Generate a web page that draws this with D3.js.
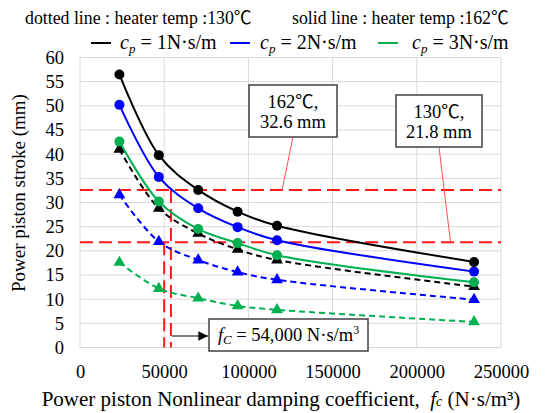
<!DOCTYPE html>
<html>
<head>
	<meta charset="utf-8">
	<title>D3</title>
	<script src="https://d3js.org/d3.v7.min.js"></script>
	<style>
		html, body {
			margin: 0;
			background: #fff;
		}
		text {
			font-family: "Liberation Serif", "Noto Sans CJK JP", serif;
			fill: #000;
		}
	</style>
</head>
<body>
	<svg id="svg"></svg>
	<script>
		// damping coefficient (N·s/m³)
		const fcValues = [23400, 46800, 70200, 93600, 117000, 234000];

		// solid: heater 162 ℃
		const solid1 = [56.5, 39.8, 32.6, 28.1, 25.2, 17.7];
		const solid2 = [50.2, 35.3, 28.8, 24.9, 22.2, 15.7];
		const solid3 = [42.6, 30.2, 24.5, 21.6, 19.1, 13.5];

		// dotted: heater 130 ℃
		const dotted1 = [41.0, 28.8, 23.6, 20.3, 18.1, 12.6];
		const dotted2 = [31.6, 21.9, 18.1, 15.6, 14.0, 9.9];
		const dotted3 = [17.6, 12.2, 10.2, 8.6, 7.8, 5.3];

		const xTicks = [0, 50000, 100000, 150000, 200000, 250000];
		const yTicks = [0, 5, 10, 15, 20, 25, 30, 35, 40, 45, 50, 55, 60];

		const stroke162 = 32.6;
		const stroke130 = 21.8;
		const fc162 = 54000;
		const fc130 = 50000;

		const width = 546, height = 413;
		const margins = { top: 57.5, left: 80, right: 45, bottom: 65.5 };
		const serif = "'Liberation Serif', 'Noto Sans CJK JP', serif";

		const svg = d3.select("#svg")
		.attr("width", width)
		.attr("height", height);

		const scaleX = d3.scaleLinear()
		.domain([0, 250000])
		.range([margins.left, width - margins.right]);

		const scaleY = d3.scaleLinear()
		.domain([0, 60])
		.range([height - margins.bottom, margins.top]);

		// grid
		const grid = svg.append("g").attr("stroke", "#d9d9d9").attr("stroke-width", 1);
		grid.selectAll(".h")
		.data(yTicks)
		.enter()
		.append("line")
		.attr("x1", scaleX(0))
		.attr("x2", scaleX(250000))
		.attr("y1", d => scaleY(d))
		.attr("y2", d => scaleY(d));
		grid.selectAll(".v")
		.data(xTicks)
		.enter()
		.append("line")
		.attr("x1", d => scaleX(d))
		.attr("x2", d => scaleX(d))
		.attr("y1", scaleY(0))
		.attr("y2", scaleY(60));

		// axes
		const xAxis = svg.append("g")
		.attr("transform", `translate(0, ${scaleY(0)})`)
		.call(d3.axisBottom(scaleX).tickValues(xTicks).tickSize(0).tickPadding(17).tickFormat(d => d));
		const yAxis = svg.append("g")
		.attr("transform", `translate(${scaleX(0)}, 0)`)
		.call(d3.axisLeft(scaleY).tickValues(yTicks).tickSize(0).tickPadding(16));
		[xAxis, yAxis].forEach(a => {
			a.select(".domain").remove();
			a.attr("font-family", null).attr("font-size", null);
			a.selectAll("text")
			.style("font-family", serif)
			.style("font-size", "18.5px")
			.attr("fill", "#000");
		});

		// axis titles
		const xTitle = svg.append("text")
		.attr("x", 281)
		.attr("y", 406)
		.attr("text-anchor", "middle")
		.style("font-size", "21px");
		xTitle.append("tspan").text("Power piston Nonlinear damping coefficient,\u00a0\u00a0");
		xTitle.append("tspan").attr("font-style", "italic").text("f");
		xTitle.append("tspan").attr("font-style", "italic").style("font-size", "14px").text("c");
		xTitle.append("tspan").text(" (N\u00b7s/m\u00b3)");

		svg.append("text")
		.attr("transform", "translate(25, 193) rotate(-90)")
		.attr("text-anchor", "middle")
		.style("font-size", "19px")
		.text("Power piston stroke (mm)");

		// red reference lines
		const red = svg.append("g")
		.attr("stroke", "#ff1a1a")
		.attr("stroke-width", 2)
		.attr("stroke-dasharray", "13,6")
		.attr("fill", "none");
		[stroke162, stroke130].forEach(v => {
			red.append("line")
			.attr("x1", scaleX(0))
			.attr("x2", scaleX(250000))
			.attr("y1", scaleY(v))
			.attr("y2", scaleY(v));
		});
		[[fc162, stroke162], [fc130, stroke130]].forEach(([f, v]) => {
			red.append("line")
			.attr("x1", scaleX(f))
			.attr("x2", scaleX(f))
			.attr("y1", scaleY(v))
			.attr("y2", scaleY(0));
		});

		// series
		const series = [
			{ values: dotted3, color: "#00b050", dashed: true },
			{ values: dotted2, color: "#0000ff", dashed: true },
			{ values: dotted1, color: "#000000", dashed: true },
			{ values: solid3, color: "#00b050", dashed: false },
			{ values: solid2, color: "#0000ff", dashed: false },
			{ values: solid1, color: "#000000", dashed: false }
		];

		const line = d3.line()
		.curve(d3.curveCatmullRom.alpha(0.5))
		.x(d => scaleX(d[0]))
		.y(d => scaleY(d[1]));

		const tri = d3.symbol().type(d3.symbolTriangle).size(60);

		series.forEach(s => {
			const pts = fcValues.map((f, i) => [f, s.values[i]]);
			svg.append("path")
			.attr("d", line(pts))
			.attr("fill", "none")
			.attr("stroke", s.color)
			.attr("stroke-width", 2)
			.attr("stroke-dasharray", s.dashed ? "6,4" : null);

			if (s.dashed) {
				svg.append("g").selectAll("path")
				.data(pts)
				.enter()
				.append("path")
				.attr("d", tri)
				.attr("transform", d => `translate(${scaleX(d[0])}, ${scaleY(d[1])})`)
				.attr("fill", s.color);
			} else {
				svg.append("g").selectAll("circle")
				.data(pts)
				.enter()
				.append("circle")
				.attr("cx", d => scaleX(d[0]))
				.attr("cy", d => scaleY(d[1]))
				.attr("r", 5)
				.attr("fill", s.color);
			}
		});

		// callouts
		function callout(x, y, w, h, lines, lx1, ly1, lx2, ly2) {
			svg.append("line")
			.attr("x1", lx1).attr("y1", ly1)
			.attr("x2", lx2).attr("y2", ly2)
			.attr("stroke", "#ff5050")
			.attr("stroke-width", 1);
			svg.append("rect")
			.attr("x", x).attr("y", y)
			.attr("width", w).attr("height", h)
			.attr("fill", "#fff")
			.attr("stroke", "#404040")
			.attr("stroke-width", 1.5);
			lines.forEach((t, i) => {
				svg.append("text")
				.attr("x", x + w / 2)
				.attr("y", y + 23 + i * 20)
				.attr("text-anchor", "middle")
				.style("font-size", "18.5px")
				.text(t);
			});
		}
		callout(249, 85, 88, 52, ["162\u2103,", "32.6 mm"], 293, 137, scaleX(120000), scaleY(stroke162));
		callout(396, 95, 86, 52, ["130\u2103,", "21.8 mm"], 439, 147, scaleX(220000), scaleY(stroke130));

		// fc arrow + box
		svg.append("defs").append("marker")
		.attr("id", "arrow")
		.attr("viewBox", "0 0 10 10")
		.attr("refX", 10).attr("refY", 5)
		.attr("markerWidth", 8).attr("markerHeight", 8)
		.attr("orient", "auto")
		.append("path")
		.attr("d", "M0,0L10,5L0,10z")
		.attr("fill", "#000");
		svg.append("line")
		.attr("x1", scaleX(fc162) + 1).attr("y1", 336)
		.attr("x2", 208).attr("y2", 336)
		.attr("stroke", "#000")
		.attr("stroke-width", 1.2)
		.attr("marker-end", "url(#arrow)");
		svg.append("rect")
		.attr("x", 209).attr("y", 319)
		.attr("width", 159).attr("height", 32)
		.attr("fill", "#fff")
		.attr("stroke", "#404040")
		.attr("stroke-width", 1.5);
		const fcText = svg.append("text")
		.attr("x", 288.5)
		.attr("y", 341)
		.attr("text-anchor", "middle")
		.style("font-size", "18.5px");
		fcText.append("tspan").attr("font-style", "italic").text("f");
		fcText.append("tspan").attr("font-style", "italic").style("font-size", "13px").attr("dy", 3).text("C");
		fcText.append("tspan").attr("dy", -3).text(" = 54,000 N\u00b7s/m");
		fcText.append("tspan").style("font-size", "12px").attr("dy", -7).text("3");

		// legend
		svg.append("text")
		.attr("x", 25).attr("y", 24)
		.style("font-size", "17.8px")
		.text("dotted line : heater temp :130\u2103");
		svg.append("text")
		.attr("x", 292).attr("y", 24)
		.style("font-size", "17.8px")
		.text("solid line : heater temp :162\u2103");

		const legendItems = [
			{ label: "1", color: "#000000", x: 91, tx: 120 },
			{ label: "2", color: "#0000ff", x: 230, tx: 260 },
			{ label: "3", color: "#00b050", x: 378, tx: 412 }
		];
		legendItems.forEach(item => {
			svg.append("line")
			.attr("x1", item.x).attr("x2", item.x + 20)
			.attr("y1", 43).attr("y2", 43)
			.attr("stroke", item.color)
			.attr("stroke-width", 2);
			const t = svg.append("text")
			.attr("x", item.tx)
			.attr("y", 49)
			.style("font-size", "20px");
			t.append("tspan").attr("font-style", "italic").text("c");
			t.append("tspan").attr("font-style", "italic").style("font-size", "13px").attr("dy", 4).text("p");
			t.append("tspan").attr("dy", -4).text("\u00a0= " + item.label + "N\u00b7s/m");
		});
	</script>
</body>
</html>
